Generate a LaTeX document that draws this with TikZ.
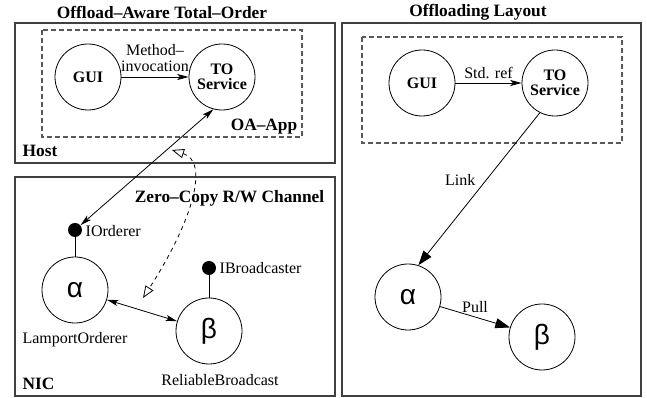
\documentclass[tikz,border=0pt]{standalone}
\usepackage{fontspec}
\setmainfont{Liberation Serif}
\newfontfamily\grkfont{Liberation Sans}
\usetikzlibrary{arrows.meta}
\begin{document}
\begin{tikzpicture}[x=.75pt,y=-.75pt,line width=.6pt,
comp/.style={draw,circle,minimum size=49.5pt,inner sep=0pt,align=center,font=\bfseries\fontsize{12}{11}\selectfont},
greek/.style={draw,circle,minimum size=49.5pt,inner sep=0pt,font=\grkfont\fontsize{21}{21}\selectfont},
pin/.style={circle,fill,minimum size=10.5pt,inner sep=0pt},
lbl/.style={font=\fontsize{12}{12}\selectfont,inner sep=1pt},
blbl/.style={font=\bfseries\fontsize{13}{13}\selectfont,inner sep=1pt},
frame/.style={draw=black!75,line width=.9pt},
grp/.style={draw=black!65,line width=.8pt,dash pattern=on 3.5pt off 2.5pt},
sharp/.style={-{Stealth[length=8.5pt,width=4.5pt,inset=2pt]}},
sharp2/.style={{Stealth[length=8.5pt,width=4.5pt,inset=2pt]}-{Stealth[length=8.5pt,width=4.5pt,inset=2pt]}},
fat/.style={-{Triangle[length=11pt,width=7.5pt]}}]
\useasboundingbox (0,0) rectangle (647,398);
\draw[frame] (15,23) rectangle (335,163);
\draw[frame] (15,177) rectangle (335,396);
\draw[frame] (342,23) rectangle (641,396);
\foreach \x/\y/\X/\Y in {42/30/302/137,362/37/622/143}
  \draw[grp] (\x,\y) rectangle (\X,\Y);
\node[blbl] (ttlL) at (162,12) {Offload--Aware Total--Order};
\node[blbl] (ttlR) at (478,12) {Offloading Layout};
\node[blbl,anchor=base west] (host) at (21,157) {Host};
\node[blbl,anchor=base east] (oaapp) at (299,131) {OA--App};
\node[blbl,anchor=base west] (nic) at (21,390) {NIC};
\node[blbl,anchor=east] (chan) at (326,198) {Zero--Copy R/W Channel};
% host side
\node[comp] (guiL) at (88,77) {GUI};
\node[comp] (toL) at (222,77) {TO\\Service};
\draw[sharp] (guiL) -- node[lbl,above=3pt,align=center] (minv) {Method--\\invocation} (toL);
% nic side
\node[greek] (aL) at (75,290) {α};
\node[greek] (bL) at (209,331) {β};
\node[pin] (iord) at (75,230) {};
\node[pin] (ibc) at (209,268) {};
\draw (iord) -- (aL);
\draw (ibc) -- (bL);
\node[lbl,anchor=west] (iordl) at (84,231) {IOrderer};
\node[lbl,anchor=west] (ibcl) at (218,268) {IBroadcaster};
\node[lbl] (lamp) at (75,340) {LamportOrderer};
\node[lbl] (relb) at (220,380) {ReliableBroadcast};
\draw[sharp2] (toL.255) -- (iord);
\draw[sharp2] (aL) -- (bL);
\coordinate (chT) at (172,150);
\coordinate (chB) at (143,298);
\draw[dashed,{Triangle[open,length=9pt,width=7pt]}-{Triangle[open,length=9pt,width=7pt]}]
  (chT) .. controls (210,162) and (192,222) .. (chB);
% offloading layout
\node[comp] (guiR) at (422,83) {GUI};
\node[comp] (toR) at (555,83) {TO\\Service};
\node[greek] (aR) at (408,297) {α};
\node[greek] (bR) at (542,337) {β};
\draw[sharp] (guiR) -- node[lbl,above=2pt] (stdref) {Std. ref} (toR);
\draw[fat] (toR.243) -- node[lbl,pos=.44,left=7pt] (link) {Link} (aR.72);
\draw[fat] (aR) -- node[lbl,above=2pt] (pull) {Pull} (bR);
\end{tikzpicture}
\end{document}
